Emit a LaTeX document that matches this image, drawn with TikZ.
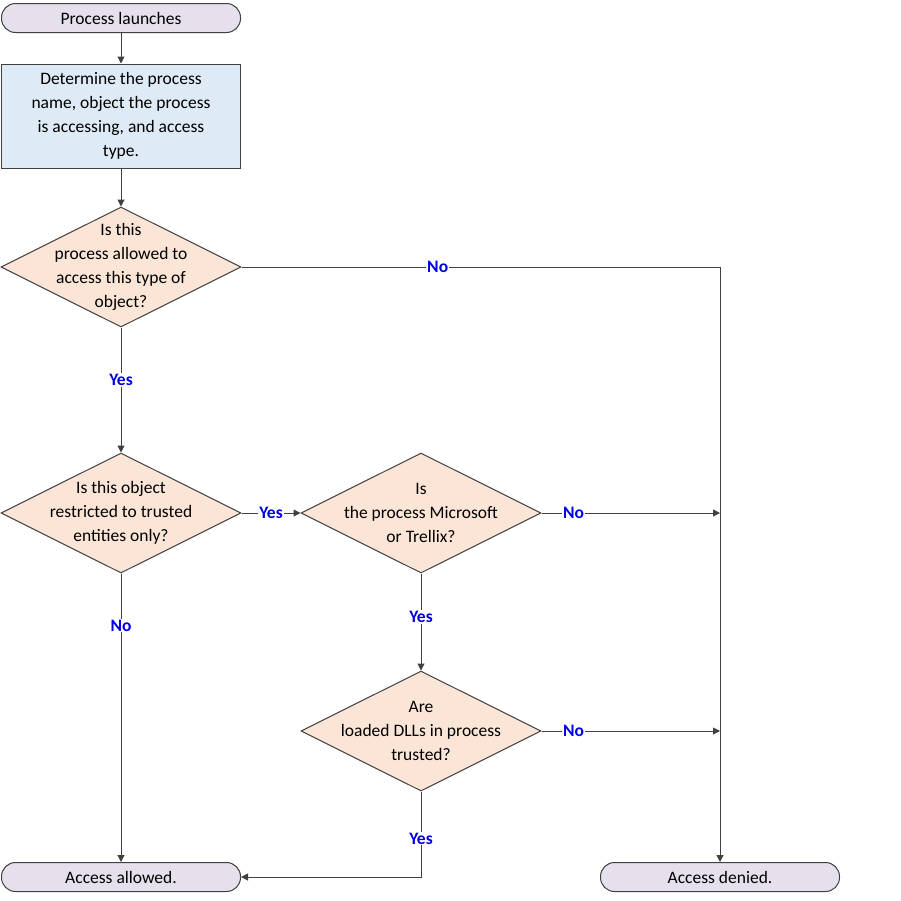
\documentclass[tikz,border=0pt]{standalone}
\usepackage{fontspec}
\setmainfont{Carlito}
\usetikzlibrary{shapes.geometric,arrows.meta}
\definecolor{termfill}{HTML}{E6E0EC}
\definecolor{procfill}{HTML}{DEEBF6}
\definecolor{decfill}{HTML}{FBE5D6}
\definecolor{edgegray}{HTML}{404040}
\tikzset{every picture/.style={line width=1pt},
  term/.style={draw=edgegray, fill=termfill, rounded corners=14pt, minimum width=239pt, minimum height=29pt, inner sep=0pt},
  procbox/.style={draw=edgegray, fill=procfill, minimum width=239pt, minimum height=104pt, inner sep=0pt, align=center},
  dia/.style={draw=edgegray, fill=decfill, diamond, aspect=2, minimum width=240pt, minimum height=120pt, inner sep=0pt},
  flow/.style={draw=edgegray, -{Triangle[length=7pt,width=7pt]}},
  yn/.style={text=blue!90!black, font=\bfseries, fill=white, inner sep=1pt}}

\begin{document}
\begin{tikzpicture}[x=1pt,y=1pt,yscale=-1,xscale=1]
\fontsize{17.5}{24}\selectfont
\useasboundingbox (0,0) rectangle (901,900);

\node [term] (start) at (121,18) {Process launches};
\node [procbox] (find) at (121,116) {Determine the process\\name, object the process\\is accessing, and access\\type.};
\node [dia] (d1) at (121,267) {};
\node [align=center] at (d1) {Is this\\process allowed to\\access this type of\\object?};
\node [dia] (d2) at (121,513) {};
\node [align=center] at (d2) {Is this object\\restricted to trusted\\entities only?};
\node [dia] (d3) at (421,513) {};
\node [align=center] at (d3) {Is\\the process Microsoft\\or Trellix?};
\node [dia] (d4) at (421,731) {};
\node [align=center] at (d4) {Are\\loaded DLLs in process\\trusted?};
\node [term] (allow) at (121,877) {Access allowed.};
\node [term] (deny) at (720,877) {Access denied.};

\coordinate (c1) at (720,267);
\coordinate (c3) at (720,513);
\coordinate (c4) at (720,731);
\coordinate (c5) at (421,877);

\draw [flow] (start) -- (find);
\draw [flow] (find) -- (d1);
\draw [flow] (d1.south) -- node[yn, pos=0.42] {Yes} (d2.north);
\draw [flow] (d1.east) -- node[yn, pos=0.41] {No} (c1) -- (deny.north);
\draw [flow] (d2.east) -- node[yn, pos=0.5] {Yes} (d3.west);
\draw [flow] (d2.south) -- node[yn, pos=0.18] {No} (allow.north);
\draw [flow] (d3.east) -- node[yn, pos=0.18] {No} (c3);
\draw [flow] (d3.south) -- node[yn, pos=0.45] {Yes} (d4.north);
\draw [flow] (d4.east) -- node[yn, pos=0.18] {No} (c4);
\draw [flow] (d4.south) -- node[yn, pos=0.55] {Yes} (c5) -- (allow.east);
\end{tikzpicture}
\end{document}
